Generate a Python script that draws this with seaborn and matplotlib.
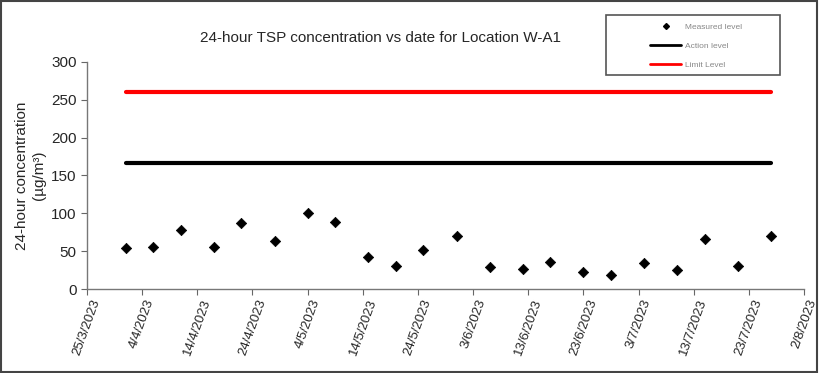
import pandas as pd
import matplotlib.pyplot as plt
import matplotlib.transforms as mtransforms
import seaborn as sns
from matplotlib.patches import Rectangle
from matplotlib.lines import Line2D

# --- Data ---
dates = ["2023-04-01", "2023-04-06", "2023-04-11", "2023-04-17", "2023-04-22", "2023-04-28",
         "2023-05-04", "2023-05-09", "2023-05-15", "2023-05-20", "2023-05-25", "2023-05-31",
         "2023-06-06", "2023-06-12", "2023-06-17", "2023-06-23", "2023-06-28", "2023-07-04",
         "2023-07-10", "2023-07-15", "2023-07-21", "2023-07-27"]
measured = [54, 56, 78, 56, 87, 63, 100, 88, 42, 31, 52, 70,
            29, 26, 36, 23, 19, 34, 25, 66, 30, 70]
action_level = 167
limit_level = 260
tick_dates = ["2023-03-25", "2023-04-04", "2023-04-14", "2023-04-24", "2023-05-04",
              "2023-05-14", "2023-05-24", "2023-06-03", "2023-06-13", "2023-06-23",
              "2023-07-03", "2023-07-13", "2023-07-23", "2023-08-02"]

df = pd.DataFrame({"date": pd.to_datetime(dates), "tsp": measured})
span = pd.to_datetime([dates[0], dates[-1]])
df_lines = pd.DataFrame({
    "date": list(span) * 2,
    "level": [action_level] * 2 + [limit_level] * 2,
    "kind": ["Action level"] * 2 + ["Limit Level"] * 2,
})

sns.set_style("ticks")
plt.rcParams["font.family"] = ["Liberation Sans", "DejaVu Sans"]

fig = plt.figure(figsize=(8.19, 3.73), dpi=100)
ax = fig.add_axes([0.1062, 0.2252, 0.8755, 0.6086])

sns.lineplot(data=df_lines, x="date", y="level", hue="kind",
             palette={"Action level": "black", "Limit Level": "#ff0000"},
             linewidth=3, legend=False, ax=ax)
sns.scatterplot(data=df, x="date", y="tsp", marker="D", color="black",
                s=28, edgecolor="black", linewidth=0.5, ax=ax, zorder=3)

ax.set_xlim(pd.Timestamp(tick_dates[0]), pd.Timestamp(tick_dates[-1]))
ax.set_ylim(0, 300)
ax.set_yticks(range(0, 301, 50))
ticks = pd.to_datetime(tick_dates)
ax.set_xticks(ticks)
ax.set_xticklabels([f"{t.day}/{t.month}/{t.year}" for t in ticks],
                   rotation=70, ha="center", va="top", fontsize=9.5)
shift = mtransforms.ScaledTranslation(-4 / 100, 0, fig.dpi_scale_trans)
for lbl in ax.get_xticklabels():
    lbl.set_transform(lbl.get_transform() + shift)
ax.tick_params(axis="y", labelsize=11, length=4, color="#666666")
ax.tick_params(axis="x", length=4, color="#666666", pad=2)
ax.set_xlabel("")
ax.set_ylabel("24-hour concentration\n(\u00b5g/m\u00b3)", fontsize=11, labelpad=4)
sns.despine(ax=ax)
for s in ["left", "bottom"]:
    ax.spines[s].set_color("#777777")
    ax.spines[s].set_linewidth(1)

fig.text(0.464, 0.898, "24-hour TSP concentration vs date for Location W-A1",
         ha="center", va="center", fontsize=11)

# legend box drawn separately so it can be wider than its entries
fig.patches.append(Rectangle((0.740, 0.799), 0.2125, 0.161, transform=fig.transFigure,
                             fill=False, edgecolor="#555555", linewidth=1.2))
handles = [
    Line2D([], [], marker="D", color="black", linestyle="none", markersize=3),
    Line2D([], [], color="black", linewidth=2),
    Line2D([], [], color="#ff0000", linewidth=2),
]
leg = fig.legend(handles, ["Measured level", "Action level", "Limit Level"],
                 loc="upper left", bbox_to_anchor=(0.794, 0.937), fontsize=6,
                 frameon=False, handlelength=3.7, handletextpad=0.5,
                 labelspacing=1.3, borderpad=0, borderaxespad=0)
for t in leg.get_texts():
    t.set_color("#888888")

fig.patches.append(Rectangle((0.001, 0.002), 0.997, 0.995, transform=fig.transFigure,
                             fill=False, edgecolor="#444444", linewidth=1.5))

fig.savefig("out.png", dpi=100)
plt.close()
